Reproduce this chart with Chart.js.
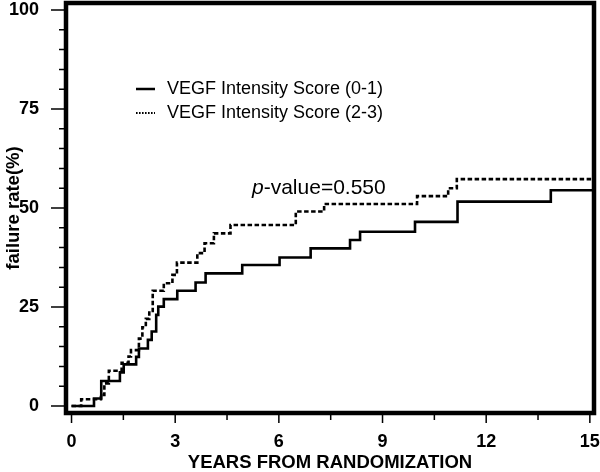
<!DOCTYPE html>
<html>
<head>
<meta charset="utf-8">
<script src="https://cdn.jsdelivr.net/npm/chart.js@4.4.0/dist/chart.umd.min.js"></script>
<style>
  html, body { margin: 0; padding: 0; background: #fff; }
</style>
</head>
<body>
<canvas id="chart" width="600" height="472"></canvas>
<script>
// series (years, failure rate %)
const seriesNames = ['VEGF Intensity Score (0-1)', 'VEGF Intensity Score (2-3)'];
const lowYears = [0, 0.65, 0.86, 1.40, 1.51, 1.87, 1.95, 2.21, 2.32, 2.45, 2.51, 2.67, 3.06, 3.59, 3.88, 4.94, 6.02, 6.92, 8.06, 8.35, 9.94, 11.17, 13.87, 15.2];
const lowRates = [0, 1.9, 6.3, 8.5, 10.5, 12.4, 14.5, 16.7, 18.8, 23.0, 25.1, 27.0, 29.1, 31.2, 33.5, 35.6, 37.5, 39.8, 41.9, 44.0, 46.5, 51.6, 54.5, 54.5];
const highYears = [0, 0.28, 0.85, 0.95, 1.08, 1.45, 1.65, 1.72, 1.95, 2.05, 2.15, 2.25, 2.35, 2.67, 2.92, 3.05, 3.64, 3.85, 4.12, 4.60, 6.49, 7.31, 10.0, 10.9, 11.15, 15.2];
const highRates = [0, 1.7, 2.8, 5.7, 8.9, 10.9, 12.5, 14.1, 17.0, 19.9, 22.0, 24.0, 29.1, 31.0, 33.1, 36.2, 38.6, 41.1, 43.6, 45.7, 49.1, 51.0, 53.0, 55.0, 57.3, 57.3];
const xMajorTicks = [0, 3, 6, 9, 12, 15];
const xMinorTicks = [1.5, 4.5, 7.5, 10.5, 13.5];
const yMajorTicks = [0, 25, 50, 75, 100];
const yMinorTicks = [5, 10, 15, 20, 30, 35, 40, 45, 55, 60, 65, 70, 80, 85, 90, 95];
const pValue = '0.550';

const family = '"Liberation Sans", Arial, Helvetica, sans-serif';

function toPoints(xs, ys) {
    return xs.map((x, i) => ({ x: x, y: ys[i] }));
}

// frame, tick marks, legend and p-value
const framePlugin = {
    id: 'frame',
    afterDatasetsDraw(chart) {
        const { ctx, chartArea: a, scales: { x, y } } = chart;
        ctx.save();
        ctx.strokeStyle = '#000';
        ctx.lineWidth = 4.5;
        ctx.strokeRect(a.left, a.top, a.right - a.left, a.bottom - a.top);

        ctx.lineWidth = 1.5;
        ctx.beginPath();
        xMajorTicks.forEach(v => {
            const px = x.getPixelForValue(v);
            ctx.moveTo(px, a.bottom + 2); ctx.lineTo(px, a.bottom + 10);
        });
        xMinorTicks.forEach(v => {
            const px = x.getPixelForValue(v);
            ctx.moveTo(px, a.bottom + 2); ctx.lineTo(px, a.bottom + 7);
        });
        yMajorTicks.forEach(v => {
            const py = y.getPixelForValue(v);
            ctx.moveTo(a.left - 2, py); ctx.lineTo(a.left - 15, py);
        });
        yMinorTicks.forEach(v => {
            const py = y.getPixelForValue(v);
            ctx.moveTo(a.left - 2, py); ctx.lineTo(a.left - 7, py);
        });
        ctx.stroke();

        // legend
        ctx.lineWidth = 2.5;
        ctx.beginPath();
        ctx.moveTo(136, 89); ctx.lineTo(155, 89);
        ctx.stroke();
        ctx.lineWidth = 2;
        ctx.setLineDash([1.6, 1.4]);
        ctx.beginPath();
        ctx.moveTo(136, 113); ctx.lineTo(155, 113);
        ctx.stroke();
        ctx.setLineDash([]);
        ctx.fillStyle = '#000';
        ctx.textBaseline = 'middle';
        ctx.font = '18px ' + family;
        ctx.fillText(seriesNames[0], 167, 89);
        ctx.fillText(seriesNames[1], 167, 113);

        // p-value
        ctx.font = 'italic 21px ' + family;
        ctx.fillText('p', 252, 188);
        const w = ctx.measureText('p').width;
        ctx.font = '21px ' + family;
        ctx.fillText('-value=' + pValue, 252 + w, 188);
        ctx.restore();
    }
};

const tickFont = { family: family, size: 18, weight: 'bold', lineHeight: 1 };
const titleFont = { family: family, size: 18.5, weight: 'bold', lineHeight: 1 };

new Chart(document.getElementById('chart').getContext('2d'), {
    type: 'line',
    data: {
        datasets: [{
            label: seriesNames[0],
            data: toPoints(lowYears, lowRates),
            stepped: true,
            borderColor: '#000',
            borderWidth: 2.6,
            pointRadius: 0,
            fill: false
        }, {
            label: seriesNames[1],
            data: toPoints(highYears, highRates),
            stepped: true,
            borderColor: '#000',
            borderWidth: 2.6,
            borderDash: [4.5, 2.5],
            pointRadius: 0,
            fill: false
        }]
    },
    options: {
        responsive: false,
        animation: false,
        layout: { padding: { top: 3, right: 6, bottom: 0, left: 0 } },
        plugins: { legend: { display: false }, tooltip: { enabled: false } },
        scales: {
            x: {
                type: 'linear',
                min: -0.16,
                max: 15.12,
                afterBuildTicks: s => {
                    s.ticks = xMajorTicks.concat(xMinorTicks).sort((a, b) => a - b).map(v => ({ value: v }));
                },
                afterFit: s => {
                    s.height = 59;
                    s.paddingLeft = 0; s.paddingRight = 0;
                },
                ticks: {
                    autoSkip: false, maxRotation: 0, padding: 12, color: '#000', font: tickFont,
                    callback: v => xMajorTicks.includes(v) ? String(v) : ''
                },
                grid: { display: false },
                border: { display: false },
                title: { display: true, text: 'YEARS FROM RANDOMIZATION', color: '#000', font: titleFont, padding: { top: 0, bottom: 0 } }
            },
            y: {
                type: 'linear',
                min: -1.77,
                max: 101.77,
                afterBuildTicks: s => {
                    s.ticks = yMajorTicks.concat(yMinorTicks).sort((a, b) => a - b).map(v => ({ value: v }));
                },
                afterFit: s => {
                    s.width = 66;
                    s.paddingTop = 0; s.paddingBottom = 0;
                },
                ticks: {
                    autoSkip: false, padding: 19, color: '#000', font: tickFont,
                    callback: v => yMajorTicks.includes(v) ? String(v) : ''
                },
                grid: { display: false },
                border: { display: false },
                title: { display: true, text: 'failure rate(%)', color: '#000', font: titleFont, padding: { top: 5, bottom: 0 } }
            }
        }
    },
    plugins: [framePlugin]
});
</script>
</body>
</html>
